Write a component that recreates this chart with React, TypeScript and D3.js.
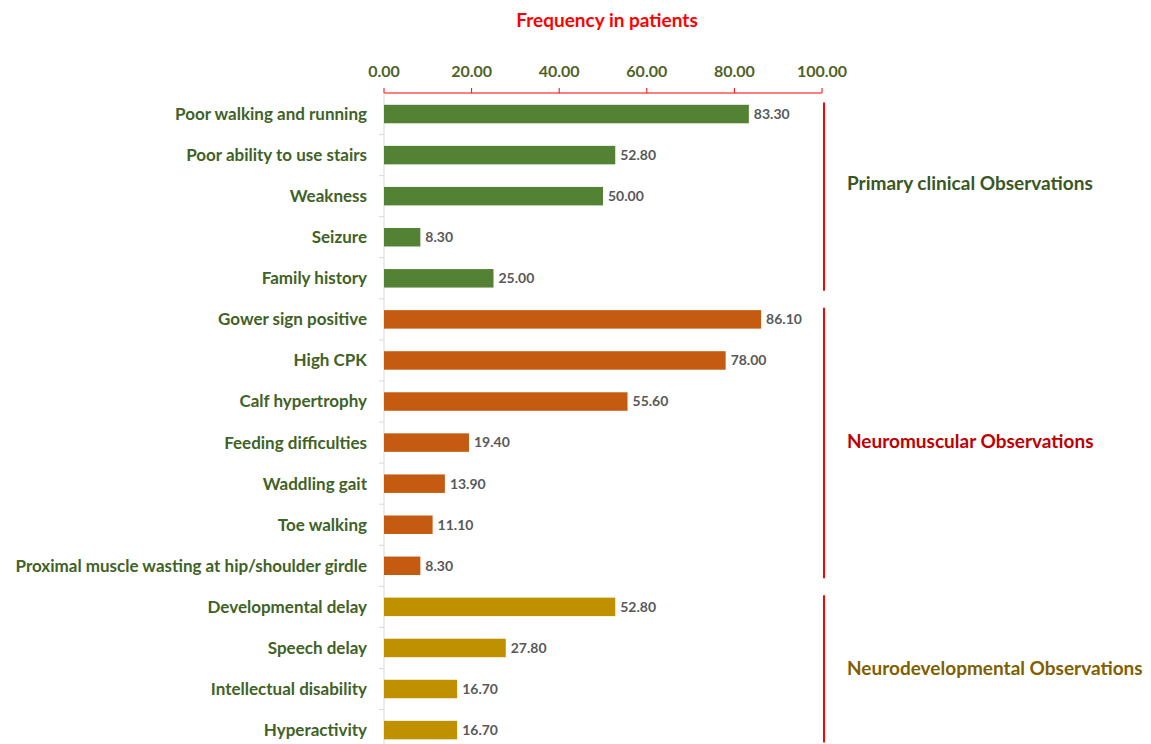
import React from "react";
import * as d3 from "d3";

const categories = [
  "Poor walking and running",
  "Poor ability to use stairs",
  "Weakness",
  "Seizure",
  "Family history",
  "Gower sign positive",
  "High CPK",
  "Calf hypertrophy",
  "Feeding difficulties",
  "Waddling gait",
  "Toe walking",
  "Proximal muscle wasting at hip/shoulder girdle",
  "Developmental delay ",
  "Speech delay",
  "Intellectual disability",
  "Hyperactivity",
];
const frequency = [83.3, 52.8, 50.0, 8.3, 25.0, 86.1, 78.0, 55.6, 19.4, 13.9, 11.1, 8.3, 52.8, 27.8, 16.7, 16.7];
const groupOf = [0, 0, 0, 0, 0, 1, 1, 1, 1, 1, 1, 1, 2, 2, 2, 2];
const groupNames = ["Primary clinical Observations", "Neuromuscular Observations", "Neurodevelopmental Observations"];
const barColors = ["#548235", "#c55a11", "#bf9000"];
const groupTextColors = ["#385723", "#c00000", "#7f6000"];
const xTicks = [0, 20, 40, 60, 80, 100];

const W = 1151;
const H = 744;
const FONT = "Lato, 'Open Sans', sans-serif";
const STEP = 41.07;
const TOP = 93.5;
// where each group's side label sits (px)
const groupLabelY = [183, 441, 668];

export default function App() {
  const x = d3.scaleLinear().domain([0, 100]).range([384, 822]);
  const y = d3
    .scaleBand<number>()
    .domain(d3.range(categories.length))
    .range([TOP, TOP + STEP * categories.length])
    .paddingInner(0.55)
    .paddingOuter(0.275);
  const bandTop = (i: number) => TOP + STEP * i;

  const groups = groupNames.map((name, g) => {
    const idx = groupOf.map((v, i) => (v === g ? i : -1)).filter((i) => i >= 0);
    const top = bandTop(idx[0]);
    const bottom = bandTop(idx[idx.length - 1] + 1);
    return { name, g, top, bottom };
  });

  return (
    <svg width={W} height={H} style={{ position: "absolute", left: 0, top: 0, fontFamily: FONT }}>
      <rect width={W} height={H} fill="#fff" />
      <text x={607} y={27} textAnchor="middle" fontSize={19} fontWeight="bold" fill="#ff0000">
        Frequency in patients
      </text>
      {/* x axis on top */}
      {xTicks.map((t) => (
        <g key={t}>
          <text x={x(t)} y={77} textAnchor="middle" fontSize={16} fontWeight="bold" fill="#4f6228">
            {t.toFixed(2)}
          </text>
          <line x1={x(t)} x2={x(t)} y1={88} y2={93} stroke="#ff0000" strokeWidth={1} />
        </g>
      ))}
      <line x1={x(0)} x2={x(100)} y1={93} y2={93} stroke="#ff0000" strokeWidth={1} />
      {/* category axis */}
      <line x1={x(0)} x2={x(0)} y1={93} y2={H} stroke="#d9d9d9" strokeWidth={1} />
      {categories.map((c, i) => (
        <line key={"t" + i} x1={x(0) - 5} x2={x(0)} y1={bandTop(i + 1)} y2={bandTop(i + 1)} stroke="#d9d9d9" />
      ))}
      {categories.map((c, i) => (
        <g key={c}>
          <text x={367} y={y(i)! + y.bandwidth() / 2} dy="0.35em" textAnchor="end" fontSize={17} fontWeight="bold" fill="#3f6226">
            {c}
          </text>
          <rect x={x(0)} y={y(i)} width={x(frequency[i]) - x(0)} height={y.bandwidth()} fill={barColors[groupOf[i]]} />
          <text x={x(frequency[i]) + 5} y={y(i)! + y.bandwidth() / 2} dy="0.35em" fontSize={14} fontWeight="bold" fill="#595959">
            {frequency[i].toFixed(2)}
          </text>
        </g>
      ))}
      {groups.map((gr) => (
        <g key={gr.name}>
          <line x1={824} x2={824} y1={gr.top + 9} y2={Math.min(gr.bottom - 8, H + 10)} stroke="#ff0000" strokeWidth={2} />
          <text x={847} y={groupLabelY[gr.g]} dy="0.35em" fontSize={19} fontWeight="bold" fill={groupTextColors[gr.g]}>
            {gr.name}
          </text>
        </g>
      ))}
    </svg>
  );
}
